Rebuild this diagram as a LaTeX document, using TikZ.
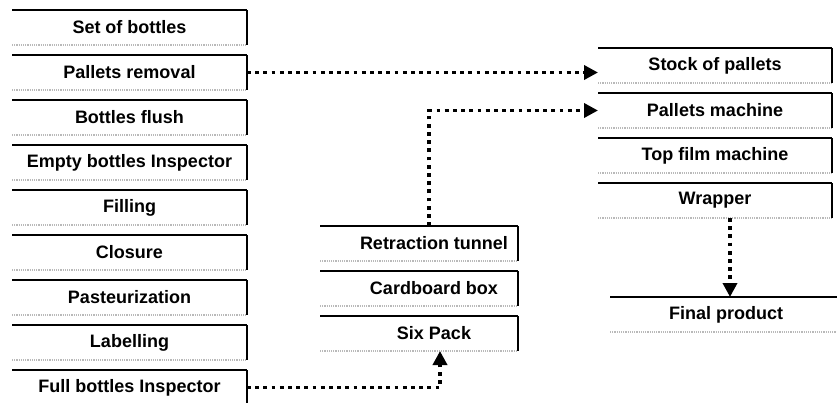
\documentclass[tikz,border=0pt]{standalone}
\usepackage{fontspec}
\setmainfont{Liberation Sans}
\usetikzlibrary{positioning,arrows.meta}

\begin{document}
\begin{tikzpicture}[x=1pt, y=-1pt, node distance=10pt,
  stage/.style={minimum width=#1, minimum height=35pt, inner sep=0pt, outer sep=0pt,
    font=\fontsize{18}{21}\selectfont\bfseries,
    append after command={
      (\tikzlastnode.south west) edge[gray!55, line width=1.2pt, densely dotted] (\tikzlastnode.south east)
      (\tikzlastnode.north east) edge[line width=1.2pt] (\tikzlastnode.south east)
      (\tikzlastnode.north west) edge[line width=2.4pt] (\tikzlastnode.north east)
    }},
  shifted/.style={execute at begin node={\hspace*{30pt}}},
  flow/.style={line width=3.8pt, dash pattern=on 3.8pt off 4.4pt,
    -{Triangle[length=14pt, width=14pt]}}]
  \useasboundingbox (0,0) rectangle (837,402);

  % Bottling line
  \node[stage=235pt] (bottles) at (129.5,27.5) {Set of bottles};
  \node[stage=235pt, below=of bottles]  (removal)  {Pallets removal};
  \node[stage=235pt, below=of removal]  (flush)    {Bottles flush};
  \node[stage=235pt, below=of flush]    (emptyins) {Empty bottles Inspector};
  \node[stage=235pt, below=of emptyins] (filling)  {Filling};
  \node[stage=235pt, below=of filling]  (closure)  {Closure};
  \node[stage=235pt, below=of closure]  (pasteur)  {Pasteurization};
  \node[stage=235pt, below=of pasteur]  (label)    {Labelling};
  \node[stage=235pt, below=of label]    (fullins)  {Full bottles Inspector};

  % Packing
  \node[stage=198pt, shifted] (tunnel) at (419,243.5) {Retraction tunnel};
  \node[stage=198pt, shifted, below=of tunnel] (cardbox) {Cardboard box};
  \node[stage=198pt, shifted, below=of cardbox] (sixpack) {Six Pack};

  % Palletising
  \node[stage=234pt] (stock) at (715,65.5) {Stock of pallets};
  \node[stage=234pt, below=of stock]    (pmachine) {Pallets machine};
  \node[stage=234pt, below=of pmachine] (topfilm)  {Top film machine};
  \node[stage=234pt, below=of topfilm]  (wrapper)  {Wrapper};
  \node[stage=232pt] (final) at (726,314.5) {Final product};

  % Flows
  \draw[flow] (removal.east) -- (removal.east -| stock.west);
  \draw[flow] ([xshift=10pt]tunnel.north) |- (pmachine.west);
  \draw[flow] (fullins.east) -| ([xshift=21pt]sixpack.south);
  \draw[flow] ([xshift=15pt]wrapper.south) -- ([xshift=15pt]wrapper.south |- final.north);

\end{tikzpicture}
\end{document}
